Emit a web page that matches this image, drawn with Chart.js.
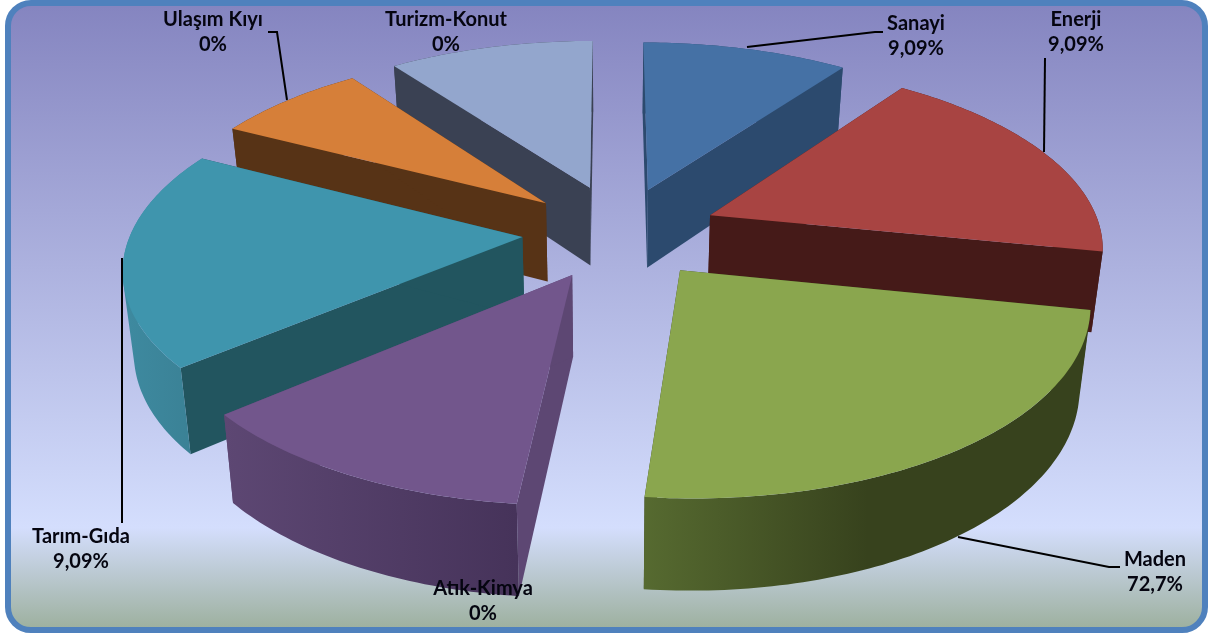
<!DOCTYPE html>
<html>
<head>
<meta charset="utf-8">
<title>Sektör dağılımı</title>
<script src="https://cdn.jsdelivr.net/npm/chart.js@4"></script>
<style>
html, body { margin: 0; padding: 0; background: #fff; }
#frame {
    position: absolute; left: 5px; top: 0; width: 1191px; height: 621px;
    border: 6px solid #4f81bd; border-radius: 26px;
    background: linear-gradient(to bottom, #8585c0 0%, #d4defd 84%, #9eb1a0 100%);
}
#chart { position: absolute; left: 0; top: 0; }
</style>
</head>
<body>
<div id="frame"></div>
<canvas id="chart" width="1209" height="639"></canvas>
<script>
// slice sizes as they look in the picture, the printed percents do not match them
var categories = ['Sanayi', 'Enerji', 'Maden', 'Atık-Kimya', 'Tarım-Gıda', 'Ulaşım Kıyı', 'Turizm-Konut'];
var sliceValues = [10, 18.2, 23.4, 12.2, 18.8, 7.4, 10];
var percentLabels = ['9,09%', '9,09%', '72,7%', '0%', '9,09%', '0%', '0%'];

var topColors = ['#4571a5', '#a84442', '#8aa64e', '#72568c', '#3f95ad', '#d67f39', '#93a6cd'];
var wallColors = ['#2c4a6e', '#451a18', '#37421d', '#5d4773', '#22555f', '#573316', '#3a4153'];
var rimLeft = ['#2c4a6e', '#451a18', '#566a30', '#5d4773', '#3e8aa0', '#573316', '#3a4153'];
var rimRight = ['#2c4a6e', '#451a18', '#37421d', '#46335a', '#3a8094', '#573316', '#3a4153'];
var explode = [93, 103, 110, 105, 91, 87, 93];
var explodeDeg = [-66.5, -15.8, 53.3, 111.4, 167.7, 219.2, 255.8];

// label centres and leader lines, same order as categories
var labelPos = [[916, 24], [1076, 20], [1155, 560], [483, 589], [81, 537], [213, 20], [446, 20]];
var leaders = [
    [[747, 47], [875, 32], [883, 32]],
    [[1044, 152], [1045, 58]],
    [[958, 537], [1109, 567], [1120, 567]],
    [],
    [[122, 258], [122, 523]],
    [[287, 100], [277, 32], [268, 32]],
    []
];

var RADIUS = 390;
var TILT = 180 / RADIUS;
var PERSPECTIVE = 0.15;

// plane -> screen, v grows towards the viewer
function project(arc, u, v) {
    var s = 1 / (1 - PERSPECTIVE * v / RADIUS);
    return { x: arc.x + u * s, y: arc.y + TILT * v * s };
}

// same point on the underside of the slab
function lower(arc, p) {
    return { x: arc.x + (p.x - arc.x) * 0.977, y: p.y * 1.0465 + 69 };
}

function tracePoly(ctx, pts) {
    pts.forEach(function(p, i) {
        if (i == 0) ctx.moveTo(p.x, p.y);
        else ctx.lineTo(p.x, p.y);
    });
    ctx.closePath();
}

function fillPoly(ctx, pts, style) {
    ctx.beginPath();
    tracePoly(ctx, pts);
    ctx.fillStyle = style;
    ctx.fill();
}

function signedArea(pts) {
    var sum = 0;
    pts.forEach(function(p, i) {
        var n = pts[(i + 1) % pts.length];
        sum += p.x * n.y - n.x * p.y;
    });
    return sum;
}

function drawSlice(ctx, arc, i) {
    var dir = explodeDeg[i] * Math.PI / 180;
    var off = arc.options.offset;
    var ox = Math.cos(dir) * off;
    var oy = Math.sin(dir) * off;
    var apex = project(arc, ox, oy);
    var rim = [];
    var steps = Math.ceil((arc.endAngle - arc.startAngle) * 180 / Math.PI);
    for (var k = 0; k <= steps; k++) {
        var a = arc.startAngle + (arc.endAngle - arc.startAngle) * k / steps;
        rim.push(project(arc, ox + Math.cos(a) * arc.outerRadius, oy + Math.sin(a) * arc.outerRadius));
    }
    var rimLow = rim.map(function(p) { return lower(arc, p); });
    var apexLow = lower(arc, apex);
    var first = rim[0], last = rim[rim.length - 1];

    fillPoly(ctx, [apex, first, rimLow[0], apexLow], wallColors[i]);
    fillPoly(ctx, [apex, last, rimLow[rimLow.length - 1], apexLow], wallColors[i]);

    var xs = rim.map(function(p) { return p.x; });
    var grad = ctx.createLinearGradient(Math.min.apply(null, xs), 0, Math.max.apply(null, xs), 0);
    grad.addColorStop(0, rimLeft[i]);
    grad.addColorStop(i == 2 ? 0.5 : 1, rimRight[i]);
    // the strip folds over itself at the tangent points, so one path of quads
    // all wound the same way
    ctx.beginPath();
    for (var q = 0; q < steps; q++) {
        var quad = [rim[q], rim[q + 1], rimLow[q + 1], rimLow[q]];
        if (signedArea(quad) < 0) quad.reverse();
        tracePoly(ctx, quad);
    }
    ctx.fillStyle = grad;
    ctx.fill();

    fillPoly(ctx, [apex].concat(rim), arc.options.backgroundColor);
}

var pie3d = {
    id: 'pie3d',
    beforeDatasetDraw: function(chart, args) {
        var ctx = chart.ctx;
        var arcs = chart.getDatasetMeta(args.index).data;
        var order = arcs.map(function(a, i) { return i; });
        order.sort(function(a, b) {
            return Math.sin((arcs[a].startAngle + arcs[a].endAngle) / 2) - Math.sin((arcs[b].startAngle + arcs[b].endAngle) / 2);
        });
        ctx.save();
        order.forEach(function(i) { drawSlice(ctx, arcs[i], i); });
        ctx.restore();
        return false;
    },
    afterDraw: function(chart) {
        var ctx = chart.ctx;
        ctx.save();
        ctx.strokeStyle = '#000';
        ctx.lineWidth = 2;
        leaders.forEach(function(line) {
            if (line.length == 0) return;
            ctx.beginPath();
            line.forEach(function(p, i) {
                if (i == 0) ctx.moveTo(p[0], p[1]);
                else ctx.lineTo(p[0], p[1]);
            });
            ctx.stroke();
        });
        ctx.font = 'bold 20px Lato';
        ctx.fillStyle = '#050510';
        ctx.textAlign = 'center';
        ctx.textBaseline = 'middle';
        categories.forEach(function(name, i) {
            ctx.fillText(name, labelPos[i][0], labelPos[i][1]);
            ctx.fillText(percentLabels[i], labelPos[i][0], labelPos[i][1] + 25);
        });
        ctx.restore();
    }
};

new Chart(document.getElementById('chart'), {
    type: 'pie',
    data: {
        labels: categories,
        datasets: [{
            data: sliceValues,
            backgroundColor: topColors,
            offset: explode,
            radius: RADIUS,
            borderWidth: 0
        }]
    },
    options: {
        responsive: false,
        animation: false,
        layout: { padding: { left: 15, bottom: 183 } },
        plugins: { legend: { display: false }, tooltip: { enabled: false } }
    },
    plugins: [pie3d]
});
</script>
</body>
</html>
